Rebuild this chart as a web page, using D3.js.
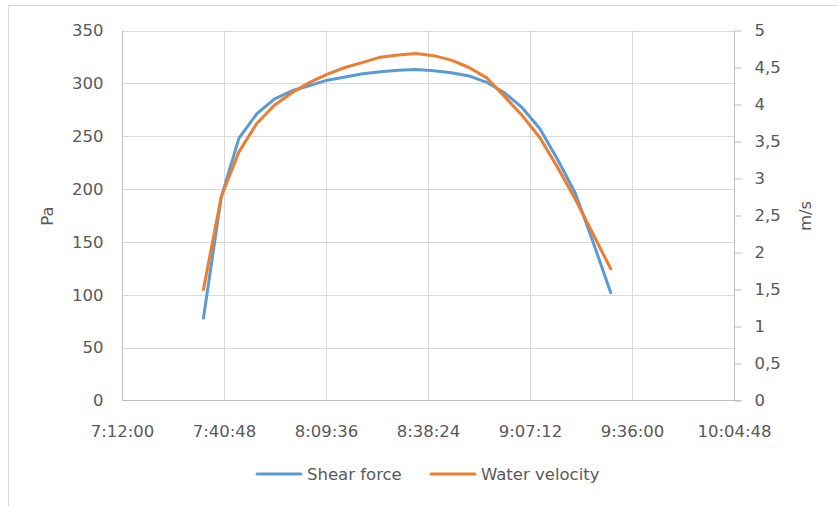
<!DOCTYPE html>
<html>
<head>
<meta charset="utf-8">
<script src="https://cdn.jsdelivr.net/npm/d3@7"></script>
<style>
  body { margin: 0; background: #fff; }
  text { font-family: "DejaVu Sans", sans-serif; fill: #595959; }
</style>
</head>
<body>
<script>
// measurement times, every 5 minutes
const times = ["7:35", "7:40", "7:45", "7:50", "7:55", "8:00", "8:05", "8:10",
  "8:15", "8:20", "8:25", "8:30", "8:35", "8:40", "8:45", "8:50",
  "8:55", "9:00", "9:05", "9:10", "9:15", "9:20", "9:25", "9:30"];

// Pa
const shearForce = [78, 192, 248, 271, 285, 293, 298, 303,
  306, 309, 311, 312.5, 313, 312, 310, 307,
  301, 291, 277, 257, 228, 196, 150, 102];

// m/s
const waterVelocity = [1.5, 2.75, 3.36, 3.74, 3.99, 4.16, 4.3, 4.41,
  4.5, 4.57, 4.64, 4.67, 4.69, 4.66, 4.6, 4.5,
  4.36, 4.11, 3.85, 3.55, 3.15, 2.72, 2.25, 1.78];

const xTickLabels = ["7:12:00", "7:40:48", "8:09:36", "8:38:24", "9:07:12", "9:36:00", "10:04:48"];
const paTicks = [0, 50, 100, 150, 200, 250, 300, 350];
const msTicks = [0, 0.5, 1, 1.5, 2, 2.5, 3, 3.5, 4, 4.5, 5];

const width = 838, height = 506;
const plotLeft = 122, plotRight = 734, plotTop = 30.5, plotBottom = 400.5;
const fontSize = "16.5px";

const parseTime = d3.timeParse("%H:%M");
const parseTick = d3.timeParse("%H:%M:%S");
const xTicks = xTickLabels.map(parseTick);

const svg = d3.select("body")
    .append("svg")
    .attr("width", width)
    .attr("height", height);

// chart frame
svg.append("rect")
    .attr("x", 8.5).attr("y", 5.5)
    .attr("width", 840).attr("height", 520)
    .attr("fill", "none")
    .attr("stroke", "#d9d9d9");

const x = d3.scaleTime()
    .domain([xTicks[0], xTicks[xTicks.length - 1]])
    .range([plotLeft, plotRight]);

const yPa = d3.scaleLinear().domain([0, 350]).range([plotBottom, plotTop]);
const yMs = d3.scaleLinear().domain([0, 5]).range([plotBottom, plotTop]);

// gridlines
svg.append("g")
    .selectAll("line")
    .data(paTicks.slice(1))
    .enter()
    .append("line")
    .attr("x1", plotLeft).attr("x2", plotRight)
    .attr("y1", d => Math.round(yPa(d)) + 0.5)
    .attr("y2", d => Math.round(yPa(d)) + 0.5)
    .attr("stroke", "#d9d9d9");

svg.append("g")
    .selectAll("line")
    .data(xTicks.slice(1, -1))
    .enter()
    .append("line")
    .attr("x1", d => Math.round(x(d)) + 0.5)
    .attr("x2", d => Math.round(x(d)) + 0.5)
    .attr("y1", plotTop).attr("y2", plotBottom)
    .attr("stroke", "#d9d9d9");

// left axis
const leftAxis = svg.append("g")
    .attr("transform", `translate(${plotLeft + 0.5},0)`)
    .call(d3.axisLeft(yPa).tickValues(paTicks).tickSize(0).tickPadding(19));
leftAxis.select(".domain").attr("stroke", "#bfbfbf").attr("d", `M0,${plotTop}V${plotBottom}`);

// right axis
const rightAxis = svg.append("g")
    .attr("transform", `translate(${plotRight + 0.5},0)`)
    .call(d3.axisRight(yMs).tickValues(msTicks).tickSize(7).tickPadding(13)
        .tickFormat(d => String(d).replace(".", ",")));
rightAxis.select(".domain").attr("stroke", "#bfbfbf").attr("d", `M0,${plotTop}V${plotBottom}`);
rightAxis.selectAll(".tick line").attr("stroke", "#bfbfbf");

// bottom axis
const bottomAxis = svg.append("g")
    .attr("transform", `translate(0,${plotBottom})`)
    .call(d3.axisBottom(x).tickValues(xTicks).tickSize(0).tickPadding(25)
        .tickFormat((d, i) => xTickLabels[i]));
bottomAxis.select(".domain").attr("stroke", "#bfbfbf").attr("d", `M${plotLeft},0H${plotRight + 7}`);

svg.selectAll(".tick text")
    .style("font-size", fontSize)
    .attr("fill", "#595959");

// axis titles
svg.append("text")
    .attr("transform", "translate(53,216) rotate(-90)")
    .attr("text-anchor", "middle")
    .style("font-size", fontSize)
    .text("Pa");

svg.append("text")
    .attr("transform", "translate(811,216) rotate(-90)")
    .attr("text-anchor", "middle")
    .style("font-size", fontSize)
    .text("m/s");

// lines
const shearLine = d3.line()
    .x((d, i) => x(parseTime(times[i])))
    .y(d => yPa(d));

const velocityLine = d3.line()
    .x((d, i) => x(parseTime(times[i])))
    .y(d => yMs(d));

svg.append("path")
    .datum(shearForce)
    .attr("d", shearLine)
    .attr("fill", "none")
    .attr("stroke", "#5b9bd5")
    .attr("stroke-width", 3)
    .attr("stroke-linecap", "round")
    .attr("stroke-linejoin", "round");

svg.append("path")
    .datum(waterVelocity)
    .attr("d", velocityLine)
    .attr("fill", "none")
    .attr("stroke", "#ed7d31")
    .attr("stroke-width", 3)
    .attr("stroke-linecap", "round")
    .attr("stroke-linejoin", "round");

// legend
const legend = [
  { name: "Shear force", color: "#5b9bd5", x: 257 },
  { name: "Water velocity", color: "#ed7d31", x: 431 }
];

const item = svg.append("g")
    .selectAll("g")
    .data(legend)
    .enter()
    .append("g")
    .attr("transform", d => `translate(${d.x},474)`);

item.append("line")
    .attr("x1", 0).attr("x2", 44)
    .attr("stroke", d => d.color)
    .attr("stroke-width", 3)
    .attr("stroke-linecap", "round");

item.append("text")
    .attr("x", 50)
    .attr("y", 6)
    .style("font-size", fontSize)
    .text(d => d.name);
</script>
</body>
</html>
